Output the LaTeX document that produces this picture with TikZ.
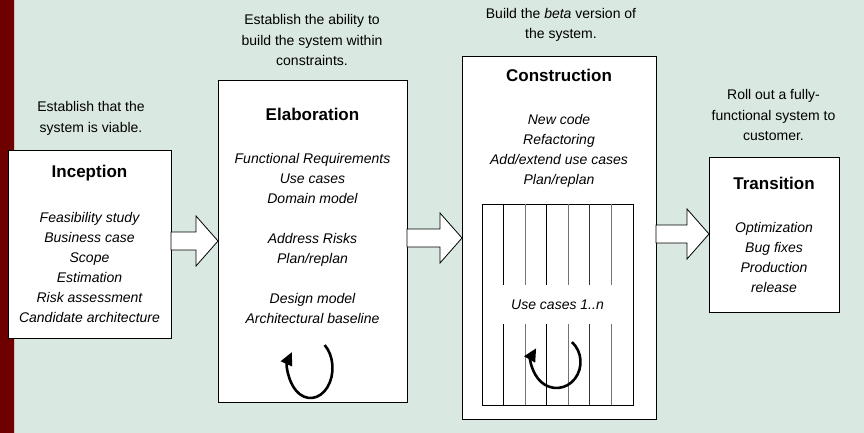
\documentclass[tikz,border=0pt]{standalone}
\usepackage{fontspec}
\setmainfont{Liberation Sans}
\usetikzlibrary{arrows.meta,calc}
\definecolor{bg}{HTML}{D9E8E0}
\definecolor{strip}{HTML}{6E0000}
\definecolor{stripedge}{HTML}{D6C2B4}
\newcommand\BlkArr[3]{\draw[blk] let \p1=(#1.east |- #3), \p2=(#2.west |- #3) in
  (\x1,\y1-9pt) -- (\x2-22pt,\y1-9pt) -- (\x2-22pt,\y1-25pt) -- (\x2,\y1)
  -- (\x2-22pt,\y1+25pt) -- (\x2-22pt,\y1+9pt) -- (\x1,\y1+9pt) -- cycle;}
\begin{document}
\begin{tikzpicture}[x=1pt,y=-1pt,
  box/.style={draw=black,line width=1pt,fill=white,inner sep=0pt,outer sep=0pt},
  ttl/.style={font=\fontsize{17}{20}\selectfont\bfseries,inner sep=0pt},
  itm/.style={font=\fontsize{14}{20}\selectfont\itshape,align=center,inner sep=0pt},
  captxt/.style={font=\fontsize{14}{20.5}\selectfont,align=center,inner sep=0pt},
  blk/.style={draw=black,line width=0.8pt,fill=white,line join=miter},
  cyc/.style={line width=2.6pt,-{Triangle[length=13pt,width=12pt]}},
  ucline/.style={line width=0.9pt}]
\fill[bg] (0,0) rectangle (864,433);
\useasboundingbox (0,0) rectangle (864,433);
\fill[strip] (0,0) rectangle (14,433);
\fill[stripedge] (14,0) rectangle (15.3,433);

% boxes
\node[box,minimum width=163pt,minimum height=188pt] (inc) at (89.5,244) {};
\node[box,minimum width=189pt,minimum height=321pt] (ela) at (312.5,241.5) {};
\node[box,minimum width=194pt,minimum height=362pt] (con) at (559,238) {};
\node[box,minimum width=130pt,minimum height=155pt] (tra) at (774,234.5) {};

% captions above
\node[captxt] (incc) at (91,118.5) {Establish that the\\system is viable.};
\node[captxt] (elac) at (312,40) {Establish the ability to\\build the system within\\constraints.};
\node[captxt] (conc) at (561,25) {Build the \textit{beta} version of\\the system.};
\node[captxt] (trac) at (773.5,115) {Roll out a fully-\\functional system to\\customer.};

% titles
\node[ttl] (inct) at (89.5,173) {Inception};
\node[ttl] (elat) at (312.5,114) {Elaboration};
\node[ttl] (cont) at (559,75) {Construction};
\node[ttl] (trat) at (774,183) {Transition};

% items
\node[itm] (inci) at (89.5,267) {Feasibility study\\Business case\\Scope\\Estimation\\Risk assessment\\Candidate architecture};
\node[itm] (elai) at (312.5,238.5) {Functional Requirements\\Use cases\\Domain model\\[20pt]Address Risks\\Plan/replan\\[20pt]Design model\\Architectural baseline};
\node[itm] (coni) at (559,150.5) {New code\\Refactoring\\Add/extend use cases\\Plan/replan};
\node[itm] (trai) at (774,257.5) {Optimization\\Bug fixes\\Production\\release};

% use-case box
\node[box,minimum width=151pt,minimum height=201pt] (uc) at (557.5,304.5) {};
\coordinate (gapT) at (0,285);
\coordinate (gapB) at (0,324);
\foreach \i/\c in {1/black,2/black!55,3/black,4/black!55,5/black!80,6/black!55}{
  \path ($(uc.north west)!\i/7!(uc.north east)$) coordinate (lt);
  \path ($(uc.south west)!\i/7!(uc.south east)$) coordinate (lb);
  \draw[ucline,draw=\c] (lt) -- (lt |- gapT);
  \draw[ucline,draw=\c] (lb) -- (lb |- gapB);
}
\node[itm] (uct) at (557.5,305) {Use cases 1..n};

% cycle arrows
\coordinate (ecyc) at (310.5,368);
\draw[cyc] (ecyc) ++(50:22pt and 30pt) arc[start angle=50,end angle=-212,x radius=22pt,y radius=30pt];
\coordinate (ccyc) at (556.5,362);
\draw[cyc] (ccyc) ++(50:24pt and 26pt) arc[start angle=50,end angle=-212,x radius=24pt,y radius=26pt];

% block arrows
\coordinate (ya) at (0,241);
\coordinate (yb) at (0,238);
\coordinate (yc) at (0,234);
\BlkArr{inc}{ela}{ya}
\BlkArr{ela}{con}{yb}
\BlkArr{con}{tra}{yc}
\end{tikzpicture}
\end{document}
